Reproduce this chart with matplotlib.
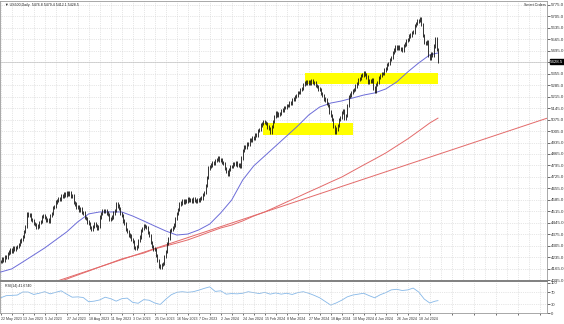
import numpy as np
import matplotlib.pyplot as plt
from matplotlib.patches import Rectangle

plt.rcParams['font.family'] = ['Liberation Sans', 'DejaVu Sans']

# daily closes, one per bar (22 May 2023 onwards)
closes = [
    4210, 4224, 4218, 4238, 4232, 4258, 4266, 4281, 4272, 4290, 4284, 4296, 4300, 4312, 4334, 4342,
    4362, 4392, 4420, 4498, 4488, 4492, 4465, 4460, 4440, 4436, 4414, 4425, 4446, 4452, 4482, 4488,
    4478, 4458, 4462, 4452, 4490, 4502, 4540, 4546, 4572, 4580, 4594, 4588, 4608, 4606, 4622, 4615,
    4630, 4620, 4628, 4604, 4608, 4570, 4560, 4540, 4545, 4522, 4530, 4508, 4505, 4478, 4472, 4450,
    4440, 4418, 4404, 4420, 4438, 4430, 4410, 4420, 4480, 4500, 4522, 4515, 4518, 4504, 4494, 4468,
    4472, 4480, 4505, 4520, 4560, 4548, 4532, 4500, 4488, 4455, 4440, 4405, 4392, 4370, 4364, 4344,
    4330, 4292, 4290, 4302, 4338, 4358, 4398, 4412, 4428, 4420, 4415, 4385, 4368, 4325, 4300, 4285,
    4282, 4246, 4215, 4180, 4172, 4190, 4196, 4240, 4270, 4318, 4350, 4398, 4402, 4415, 4432, 4470,
    4500, 4525, 4560, 4565, 4578, 4570, 4582, 4576, 4590, 4580, 4586, 4578, 4592, 4582, 4575, 4588,
    4580, 4592, 4596, 4618, 4630, 4672, 4720, 4780, 4790, 4798, 4812, 4806, 4826, 4830, 4845, 4828,
    4830, 4815, 4808, 4778, 4756, 4742, 4772, 4790, 4788, 4805, 4800, 4812, 4798, 4802, 4790, 4840,
    4888, 4912, 4905, 4930, 4925, 4952, 4948, 4966, 4960, 4985, 4978, 5008, 5015, 5042, 5050, 5062,
    5058, 5052, 5030, 5022, 5000, 5035, 5062, 5092, 5118, 5100, 5110, 5112, 5130, 5134, 5150, 5148,
    5160, 5162, 5178, 5176, 5196, 5200, 5218, 5220, 5240, 5242, 5260, 5264, 5288, 5298, 5308, 5296,
    5304, 5296, 5310, 5300, 5298, 5282, 5278, 5262, 5260, 5236, 5224, 5200, 5195, 5175, 5160, 5122,
    5098, 5076, 5035, 4998, 5018, 5040, 5075, 5090, 5120, 5128, 5080, 5098, 5160, 5215, 5226, 5242,
    5252, 5258, 5280, 5295, 5322, 5326, 5345, 5348, 5360, 5352, 5335, 5305, 5312, 5308, 5320, 5268,
    5250, 5288, 5300, 5330, 5346, 5358, 5355, 5378, 5388, 5410, 5418, 5440, 5455, 5484, 5500, 5520,
    5510, 5522, 5508, 5506, 5500, 5528, 5536, 5558, 5565, 5586, 5592, 5606, 5610, 5648, 5660, 5678,
    5680, 5690, 5655, 5590, 5545, 5540, 5552, 5465, 5448, 5475, 5470, 5525, 5570, 5505, 5430,
]

# moving averages, every 8 bars
ma50_bars = list(range(0, 313, 8)) + [318]
ma50 = [4144, 4163, 4205, 4248, 4291, 4340, 4389, 4450, 4499, 4511,
        4511, 4511, 4486, 4456, 4425, 4395, 4370, 4376, 4401, 4437,
        4505, 4584, 4706, 4792, 4853, 4914, 4975, 5036, 5103, 5152,
        5176, 5189, 5207, 5225, 5238, 5262, 5305, 5366, 5421, 5470, 5482]
ma200_bars = list(range(32, 313, 8)) + [318]
ma200 = [4046, 4077, 4101, 4126, 4150, 4175, 4199, 4224, 4242, 4260,
         4285, 4303, 4321, 4340, 4364, 4389, 4413, 4431, 4456, 4486,
         4511, 4541, 4572, 4602, 4633, 4663, 4694, 4724, 4761, 4798,
         4834, 4871, 4914, 4957, 5005, 5054, 5084]

# trendline anchors (bar, price)
trend_bars = [40, 400]
trend_prices = [4086, 5091]

# support / resistance zones: start bar, end bar, low, high
zones = [(221, 318, 5292, 5360), (191, 256, 4981, 5056)]

# RSI(14), every 4 bars
rsi_bars = list(range(0, 317, 4)) + [318]
rsi = [51, 58, 59, 60, 70, 70, 62, 66, 71, 64, 69, 74, 63, 53, 54, 52,
       38, 40, 44, 53, 48, 40, 48, 50, 36, 33, 45, 43, 34, 29, 46, 61,
       69, 71, 69, 71, 76, 82, 87, 72, 74, 63, 65, 64, 66, 71, 68, 65,
       69, 63, 67, 63, 66, 62, 68, 71, 66, 59, 51, 39, 27, 34, 43, 54,
       60, 63, 66, 58, 51, 61, 68, 77, 79, 75, 77, 83, 70, 47, 34, 40, 41.7]

date_labels = ['22 May 2023', '13 Jun 2023', '5 Jul 2023', '27 Jul 2023', '18 Aug 2023',
               '11 Sep 2023', '3 Oct 2023', '25 Oct 2023', '16 Nov 2023', '7 Dec 2023',
               '2 Jan 2024', '24 Jan 2024', '15 Feb 2024', '8 Mar 2024', '27 Mar 2024',
               '18 Apr 2024', '10 May 2024', '4 Jun 2024', '26 Jun 2024', '18 Jul 2024']
price_ticks = list(range(4095, 5776, 70))
last_price = 5428.5
header = '\u25bc US500,Daily  5476.8 5479.4 5412.1 5428.5'

W, H = 564, 324
fig = plt.figure(figsize=(W / 100, H / 100), dpi=100)
ax = fig.add_axes([0, 1 - 281 / H, 547 / W, 280 / H])
rax = fig.add_axes([0, 1 - 313.3 / H, 547 / W, 31.3 / H])

grid_kw = dict(color='#cfcfcf', linestyle=':', linewidth=0.5)
xmin, xmax = -0.5, 397.3

# candles
idx = np.arange(len(closes))
c = np.array(closes, dtype=float)
o = np.r_[c[0], c[:-1]]
wick = 10
lo = np.minimum(o, c) - wick
hi = np.maximum(o, c) + wick

for b0, b1, zlo, zhi in zones:
    ax.add_patch(Rectangle((b0, zlo), b1 - b0, zhi - zlo, color='#ffff00', lw=0, zorder=1))

ax.axhline(last_price, color='#c4c4c4', lw=0.5, zorder=1.5)
ax.plot(trend_bars, trend_prices, color='#e36a6a', lw=0.7, zorder=2)
ax.plot(ma200_bars, ma200, color='#e36a6a', lw=0.7, zorder=2)
ax.plot(ma50_bars, ma50, color='#6c6cd8', lw=0.7, zorder=3)
ax.vlines(idx, lo, hi, color='#111111', lw=0.6, zorder=4)

ax.set_xlim(xmin, xmax)
ax.set_ylim(4089.2, 5799.4)
ax.set_xticks(np.arange(0, 398, 8))
ax.set_xticklabels([])
ax.tick_params(axis='x', length=0)
ax.yaxis.tick_right()
ax.set_yticks(price_ticks)
ax.set_yticklabels(['%.1f' % v for v in price_ticks])
ax.tick_params(axis='y', labelsize=3.2, length=2, width=0.5, pad=1, colors='#333333')
ax.grid(True, **grid_kw)
ax.set_axisbelow(True)
for s in ['left', 'top', 'right']:
    ax.spines[s].set_color('#9a9a9a')
    ax.spines[s].set_linewidth(0.6)
ax.spines['bottom'].set_color('#808080')
ax.spines['bottom'].set_linewidth(1.4)

ax.text(3, 5790, header, fontsize=2.6, va='top', ha='left', color='#222222')
ax.text(xmax - 1, 5790, 'Smart Orders', fontsize=2.6, va='top', ha='right', color='#222222')
ax.text(1.006, last_price, '%.1f' % last_price, transform=ax.get_yaxis_transform(),
        fontsize=3.2, color='white', va='center', ha='left', clip_on=False, zorder=10,
        bbox=dict(boxstyle='square,pad=0.15', fc='black', ec='black'))

# RSI panel
rax.plot(rsi_bars, rsi, color='#86b8e8', lw=0.6)
rax.set_xlim(xmin, xmax)
rax.set_ylim(0, 103)
rax.axhline(70, **grid_kw)
rax.axhline(30, **grid_kw)
rax.set_xticks(np.arange(0, 305, 16))
rax.set_xticklabels(date_labels)
rax.set_xticks(np.arange(8, 398, 16), minor=True)
rax.tick_params(axis='x', which='both', labelsize=2.6, length=1.5, width=0.5, pad=1.5,
                colors='#333333')
plt.setp(rax.get_xticklabels(), ha='left')
rax.grid(True, axis='x', which='both', **grid_kw)
rax.yaxis.tick_right()
rax.set_yticks([0, 30, 70, 100])
rax.set_yticklabels(['0', '30', '70', '100'])
rax.tick_params(axis='y', labelsize=3.0, length=2, width=0.5, pad=1, colors='#333333')
for s in ['left', 'bottom', 'right']:
    rax.spines[s].set_color('#9a9a9a')
    rax.spines[s].set_linewidth(0.6)
rax.spines['top'].set_visible(False)
rax.text(3, 97, 'RSI(14) 41.6740', fontsize=2.6, va='top', ha='left', color='#222222')

fig.savefig('out.png', dpi=100)
